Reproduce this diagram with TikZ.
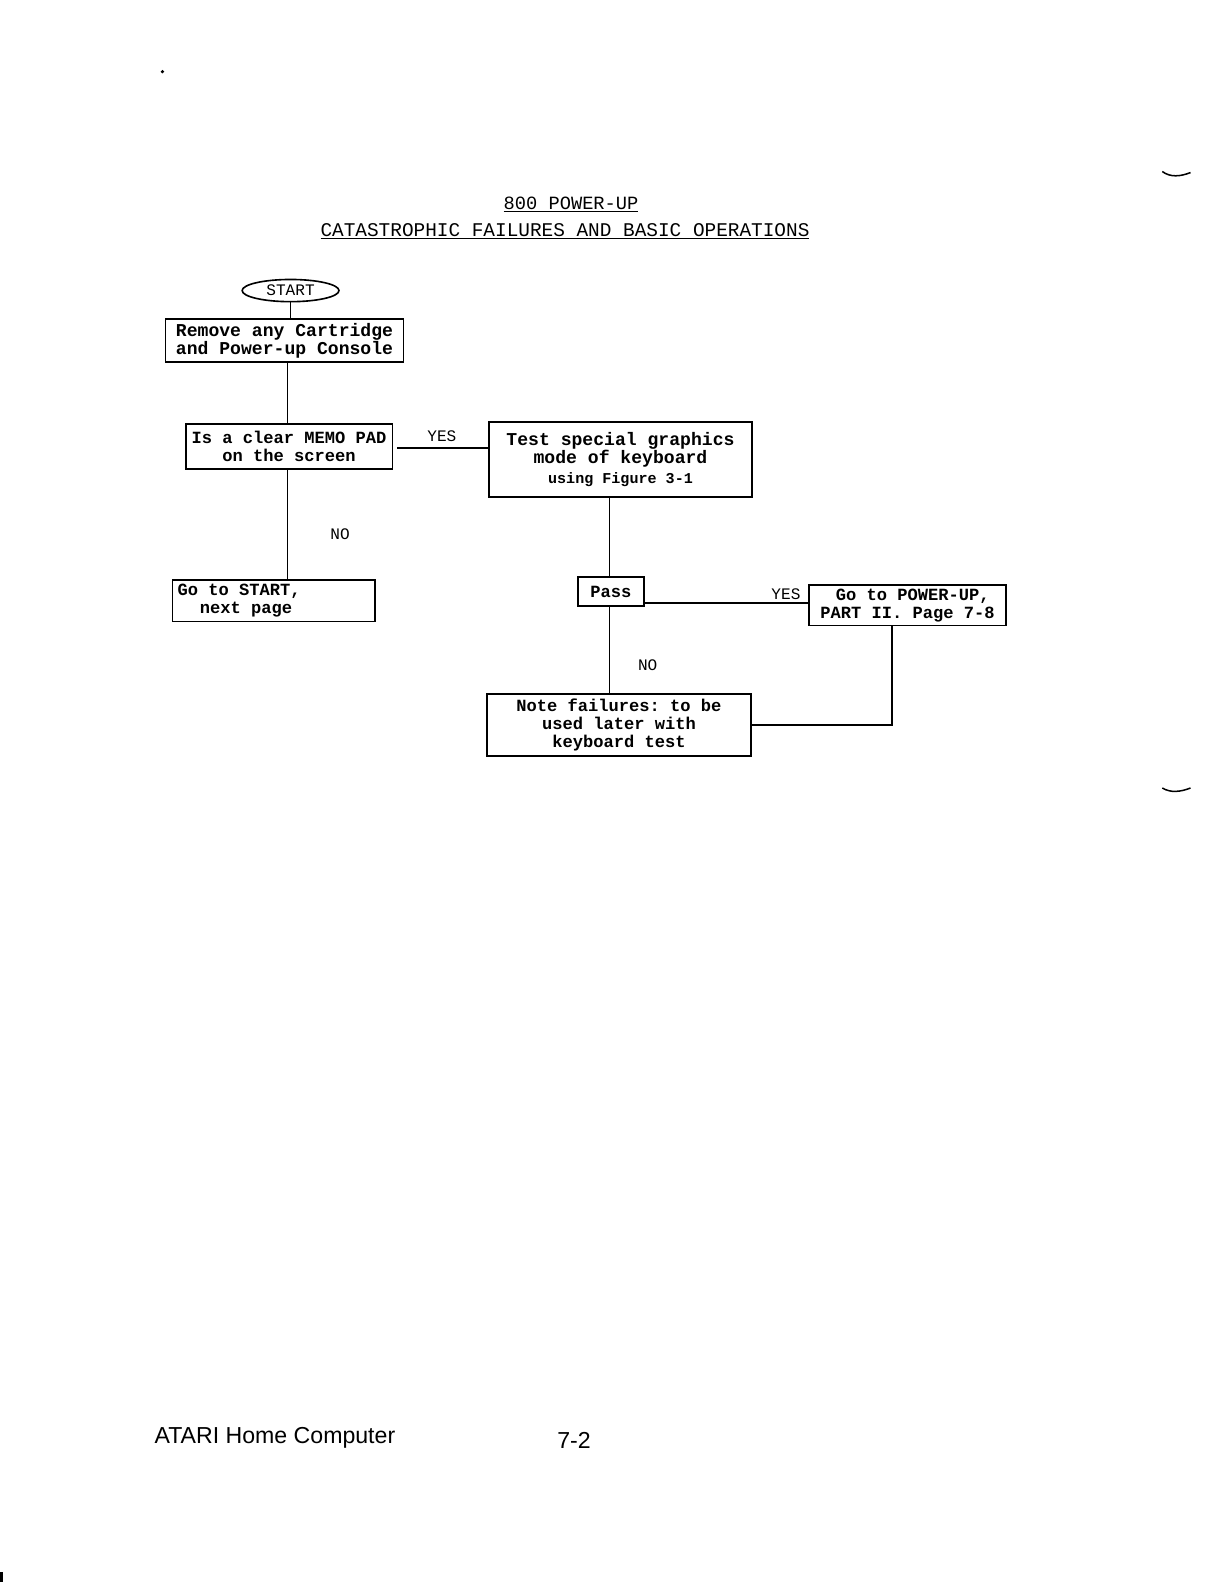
\documentclass[tikz,border=0pt]{standalone}
\usepackage{fontspec}
\usetikzlibrary{shapes.geometric}
\setmonofont{Liberation Mono}[WordSpace={1,0,0}]
\setsansfont{Liberation Sans}
\begin{document}
\begin{tikzpicture}[x=1bp,y=-1bp,
  box/.style={draw,line width=1.8bp,rectangle,inner sep=0pt,align=center,
    font=\ttfamily\bfseries\fontsize{17}{18}\selectfont},
  conn/.style={line width=1.7bp},
  lbl/.style={font=\ttfamily\fontsize{16}{16}\selectfont,inner sep=0pt}]
\useasboundingbox (0,0) rectangle (1213,1568);
\fill[white] (0,0) rectangle (1213,1568);
% titles
\node[inner sep=0pt,font=\ttfamily\fontsize{18.6}{18}\selectfont] (t1) at (566,203) {\underline{800 POWER-UP}};
\node[inner sep=0pt,font=\ttfamily\fontsize{19.3}{18}\selectfont] (t2) at (560,229) {\underline{CATASTROPHIC FAILURES AND BASIC OPERATIONS}};
% nodes
\node[draw,line width=1.6bp,ellipse,minimum width=96bp,minimum height=22bp,inner sep=0pt,
  font=\ttfamily\fontsize{16}{16}\selectfont] (start) at (288,288) {START};
\node[box,minimum width=236bp,minimum height=43bp] (b1) at (282,337.5)
  {\fontsize{18}{18}\selectfont Remove any Cartridge\\\fontsize{18}{18}\selectfont and Power-up Console};
\node[box,minimum width=205bp,minimum height=45bp] (b2) at (286.5,442.5)
  {Is a clear MEMO PAD\\on the screen};
\node[box,minimum width=260bp,minimum height=75bp] (b3) at (615,455.5)
  {\fontsize{18}{18}\selectfont Test special graphics\\\fontsize{18}{18}\selectfont mode of keyboard\\[2pt]\fontsize{15}{15}\selectfont using Figure 3-1};
\node[box,minimum width=201bp,minimum height=41bp,align=left] (b4) at (271.5,595.5)
  {\makebox[191bp][l]{Go to START,}\\\makebox[191bp][l]{\hspace{1.3em}next page}};
\node[box,minimum width=65bp,minimum height=29bp] (pass) at (605.5,586.5) {Pass};
\node[box,minimum width=195bp,minimum height=40bp] (b5) at (899.5,600)
  {\ Go to POWER-UP,\\PART II. Page 7-8};
\node[box,minimum width=261bp,minimum height=61bp] (b6) at (613.5,718.5)
  {\fontsize{17}{17.5}\selectfont Note failures: to be\\used later with\\keyboard test};
% labels
\node[lbl] (yes1) at (438,432) {YES};
\node[lbl] (no1) at (337,529) {NO};
\node[lbl] (yes2) at (779,589) {YES};
\node[lbl] (no2) at (642,659) {NO};
% connectors
\draw[conn] (start.south) -- (start.south |- b1.north);
\draw[conn] ([xshift=3bp]b1.south) -- ([xshift=3bp]b1.south |- b2.north);
\draw[line width=2.7bp] ([xshift=4bp,yshift=-1.5bp]b2.east) -- ([yshift=-1.5bp]b2.east -| b3.west);
\draw[conn] ([xshift=-1.5bp]b2.south) -- ([xshift=-1.5bp]b2.south |- b4.north);
\draw[conn] ([xshift=-1.5bp]pass.north) -- ([xshift=-1.5bp]pass.north |- b3.south);
\draw[conn] ([yshift=2bp]b5.west -| pass.east) -- ([yshift=2bp]b5.west);
\draw[conn] ([xshift=-1.5bp]pass.south) -- ([xshift=-1.5bp]pass.south |- b6.north);
\draw[conn] (b6.east) -| ([xshift=-15.5bp]b5.south);
% footer
\node[inner sep=0pt,anchor=west,font=\sffamily\fontsize{23}{23}\selectfont] (foot) at (153,1425) {ATARI Home Computer};
\node[inner sep=0pt,font=\sffamily\fontsize{23}{23}\selectfont] (pg) at (569,1428) {7-2};
% scan marks
\fill (161,71) circle (1.8bp);
\draw[line width=1.5bp] (1152,170) .. controls (1160,176) and (1170,175) .. (1180,171);
\draw[line width=1.5bp] (1152,781) .. controls (1160,786) and (1170,785) .. (1180,781);
\fill (0,1558) rectangle (3,1568);
\end{tikzpicture}
\end{document}
